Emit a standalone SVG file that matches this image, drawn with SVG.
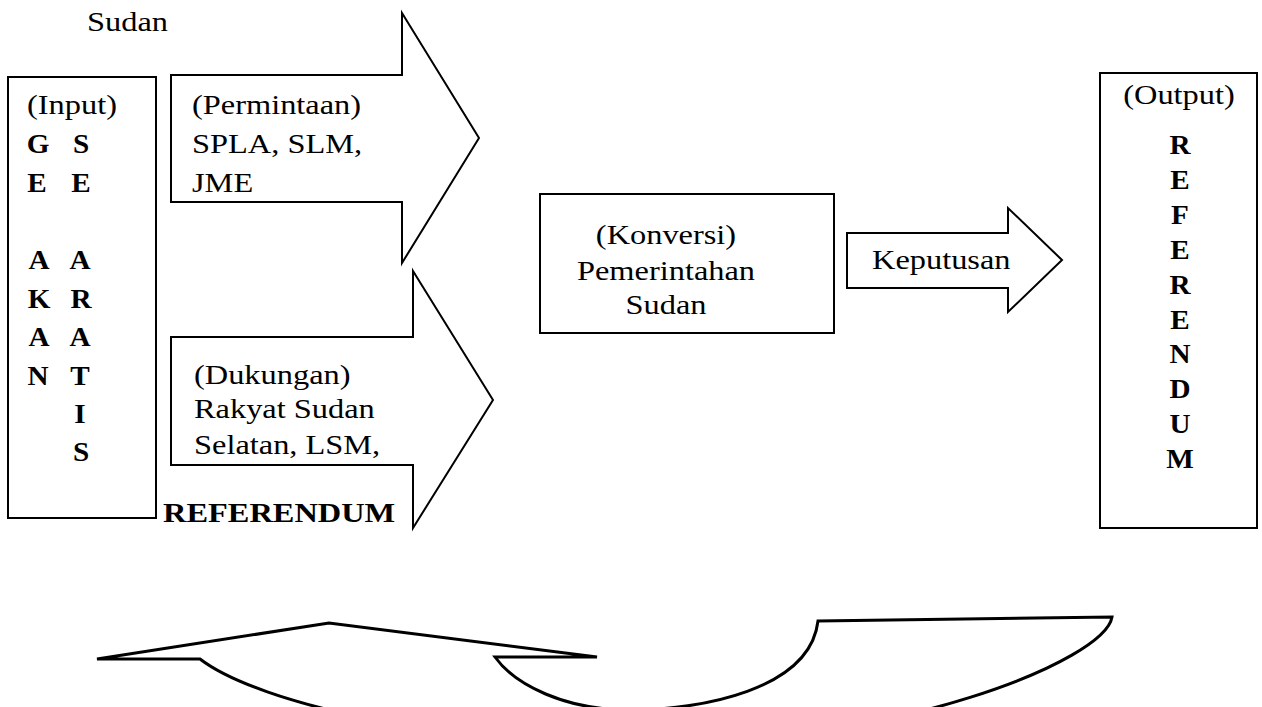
<svg xmlns="http://www.w3.org/2000/svg" width="1262" height="707" viewBox="0 0 1262 707">
<style>
.t{font-family:"Liberation Serif","Times New Roman",serif;font-size:27px;fill:#000}
.b{font-weight:bold}
.m{text-anchor:middle}
.s{fill:#fff;stroke:#000;stroke-width:2;stroke-linejoin:miter}
.u{fill:#fff;stroke:#000;stroke-width:3;stroke-linejoin:miter}
</style>
<rect width="1262" height="707" fill="#fff"/>
<g id="title">
<text class="t" transform="translate(87,31) scale(1.2,1)">Sudan</text>
</g>
<g id="input">
<rect class="s" x="8" y="77" width="148" height="441"/>
<text class="t" transform="translate(27,114) scale(1.2,1)">(Input)</text>
<g class="t b m">
<text transform="translate(38,153) scale(1.08,1)">G</text><text transform="translate(81,153) scale(1.08,1)">S</text>
<text transform="translate(37,192) scale(1.08,1)">E</text><text transform="translate(81,192) scale(1.08,1)">E</text>
<text transform="translate(39,269) scale(1.08,1)">A</text><text transform="translate(80,269) scale(1.08,1)">A</text>
<text transform="translate(39,308) scale(1.08,1)">K</text><text transform="translate(81,308) scale(1.08,1)">R</text>
<text transform="translate(39,346) scale(1.08,1)">A</text><text transform="translate(80,346) scale(1.08,1)">A</text>
<text transform="translate(38,385) scale(1.08,1)">N</text><text transform="translate(80,385) scale(1.08,1)">T</text>
<text transform="translate(80,423) scale(1.08,1)">I</text>
<text transform="translate(81,461) scale(1.08,1)">S</text>
</g>
</g>
<g id="permintaan">
<path class="s" d="M171,75 L402,75 L402,13 L479,138 L402,263 L402,202 L171,202 Z"/>
<text class="t" transform="translate(192,114) scale(1.2,1)">(Permintaan)</text>
<text class="t" transform="translate(192,153) scale(1.2,1)">SPLA, SLM,</text>
<text class="t" transform="translate(192,192) scale(1.2,1)">JME</text>
</g>
<g id="dukungan">
<path class="s" d="M171,337 L413,337 L413,271 L493,400 L413,528 L413,465 L171,465 Z"/>
<text class="t" transform="translate(194,384) scale(1.2,1)">(Dukungan)</text>
<text class="t" transform="translate(194,418) scale(1.2,1)">Rakyat Sudan</text>
<text class="t" transform="translate(194,454) scale(1.2,1)">Selatan, LSM,</text>
</g>
<g id="referendum-label">
<text class="t b" transform="translate(163,522) scale(1.2,1)">REFERENDUM</text>
</g>
<g id="konversi">
<rect class="s" x="540" y="194" width="294" height="139"/>
<text class="t m" transform="translate(666,244) scale(1.2,1)">(Konversi)</text>
<text class="t m" transform="translate(666,280) scale(1.2,1)">Pemerintahan</text>
<text class="t m" transform="translate(666,314) scale(1.2,1)">Sudan</text>
</g>
<g id="keputusan">
<path class="s" d="M847,233 L1008,233 L1008,208 L1062,260 L1008,312 L1008,288 L847,288 Z"/>
<text class="t" transform="translate(872,269) scale(1.2,1)">Keputusan</text>
</g>
<g id="output">
<rect class="s" x="1100" y="73" width="157" height="455"/>
<text class="t m" transform="translate(1179,104) scale(1.2,1)">(Output)</text>
<g class="t b m">
<text transform="translate(1180,154) scale(1.08,1)">R</text>
<text transform="translate(1180,189) scale(1.08,1)">E</text>
<text transform="translate(1180,224) scale(1.08,1)">F</text>
<text transform="translate(1180,259) scale(1.08,1)">E</text>
<text transform="translate(1180,294) scale(1.08,1)">R</text>
<text transform="translate(1180,329) scale(1.08,1)">E</text>
<text transform="translate(1180,363) scale(1.08,1)">N</text>
<text transform="translate(1180,398) scale(1.08,1)">D</text>
<text transform="translate(1180,433) scale(1.08,1)">U</text>
<text transform="translate(1180,468) scale(1.08,1)">M</text>
</g>
</g>
<g id="connectors">
<path class="u" d="M97,659 L329,623 L597,657 L495,657 C515,685 565,710 630,710 C700,710 810,690 818,621 L1112,617 C1105,660 900,745 640,745 C450,745 260,705 200,659 Z"/>
</g>
</svg>
